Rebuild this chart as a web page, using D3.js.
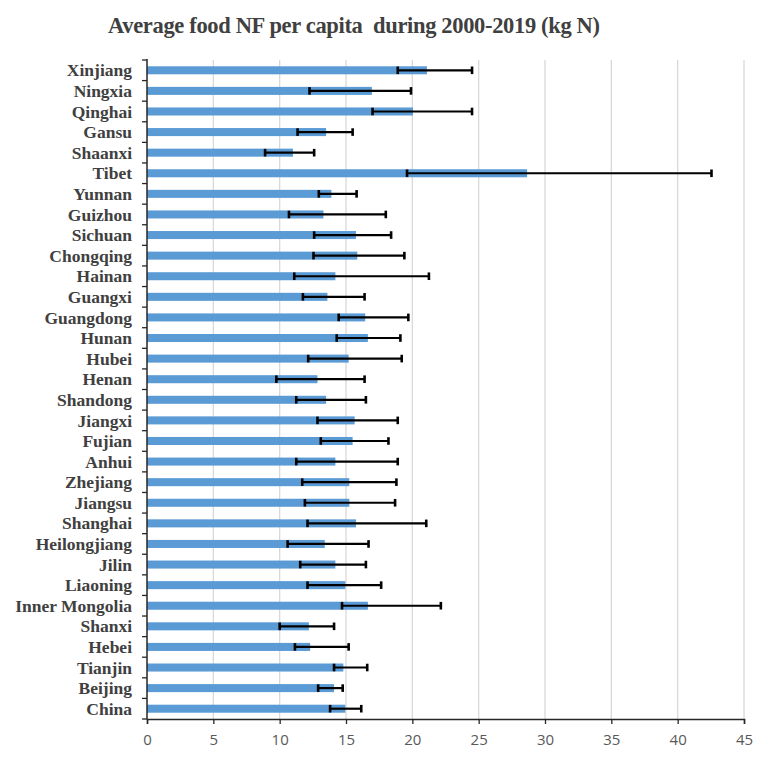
<!DOCTYPE html>
<html>
<head>
<meta charset="utf-8">
<script src="https://cdn.jsdelivr.net/npm/d3@7"></script>
<style>
  body { margin: 0; background: #fff; }
  svg { display: block; }
</style>
</head>
<body>
<script>
// provinces from top to bottom
var regions = ["Xinjiang", "Ningxia", "Qinghai", "Gansu", "Shaanxi", "Tibet", "Yunnan",
  "Guizhou", "Sichuan", "Chongqing", "Hainan", "Guangxi", "Guangdong", "Hunan", "Hubei",
  "Henan", "Shandong", "Jiangxi", "Fujian", "Anhui", "Zhejiang", "Jiangsu", "Shanghai",
  "Heilongjiang", "Jilin", "Liaoning", "Inner Mongolia", "Shanxi", "Hebei", "Tianjin",
  "Beijing", "China"];

// average food NF per capita (kg N)
var meanNF = [21.1, 16.95, 20.05, 13.5, 11.0, 28.65, 13.9,
  13.3, 15.75, 15.85, 14.2, 13.6, 16.45, 16.65, 15.2,
  12.85, 13.5, 15.65, 15.5, 14.2, 15.25, 15.25, 15.75,
  13.4, 14.2, 14.95, 16.65, 12.2, 12.3, 14.8,
  14.1, 14.95];

// lower and upper ends of the error bars
var lowNF = [18.9, 12.25, 17.0, 11.35, 8.9, 19.6, 12.95,
  10.7, 12.6, 12.55, 11.1, 11.75, 14.45, 14.3, 12.15,
  9.75, 11.25, 12.85, 13.1, 11.25, 11.7, 11.9, 12.1,
  10.6, 11.55, 12.1, 14.7, 10.0, 11.15, 14.1,
  12.9, 13.8];
var highNF = [24.5, 19.9, 24.5, 15.5, 12.6, 42.55, 15.8,
  18.0, 18.4, 19.4, 21.25, 16.4, 19.7, 19.1, 19.2,
  16.4, 16.5, 18.9, 18.2, 18.9, 18.8, 18.7, 21.05,
  16.7, 16.5, 17.65, 22.15, 14.1, 15.2, 16.6,
  14.75, 16.15];

var xTicks = [0, 5, 10, 15, 20, 25, 30, 35, 40, 45];

var width = 765, height = 762;
var margin = {top: 60, right: 21, bottom: 43, left: 147};

var rows = regions.map(function(d, i) {
  return {name: d, mean: meanNF[i], low: lowNF[i], high: highNF[i]};
});

var svg = d3.select("body").append("svg")
    .attr("width", width)
    .attr("height", height);

var x = d3.scaleLinear()
    .domain([0, 45])
    .range([margin.left, width - margin.right]);

var y = d3.scaleBand()
    .domain(regions)
    .range([margin.top, height - margin.bottom])
    .paddingInner(0.61)
    .paddingOuter(0.305);

var yOuter = d3.scaleBand()
    .domain(regions)
    .range([margin.top, height - margin.bottom]);

// title
svg.append("text")
    .attr("x", 108)
    .attr("y", 32.5)
    .attr("textLength", 492)
    .attr("lengthAdjust", "spacing")
    .style("font-family", "'Liberation Serif', 'Times New Roman', serif")
    .style("font-weight", "bold")
    .style("font-size", "22.5px")
    .style("white-space", "pre")
    .attr("fill", "#404040")
    .text("Average food NF per capita  during 2000-2019 (kg N)");

// vertical grid
svg.append("g")
    .selectAll("line")
    .data(xTicks.slice(1))
    .enter().append("line")
    .attr("x1", function(d) { return x(d); })
    .attr("x2", function(d) { return x(d); })
    .attr("y1", margin.top)
    .attr("y2", height - margin.bottom)
    .attr("stroke", "#d9d9d9")
    .attr("stroke-width", 1.3);

// bars
svg.append("g")
    .selectAll("rect")
    .data(rows)
    .enter().append("rect")
    .attr("x", x(0))
    .attr("y", function(d) { return y(d.name); })
    .attr("width", function(d) { return x(d.mean) - x(0); })
    .attr("height", y.bandwidth())
    .attr("fill", "#5b9bd5");

// error bars
var err = svg.append("g")
    .selectAll("g")
    .data(rows)
    .enter().append("g")
    .attr("transform", function(d) {
      return "translate(0," + (y(d.name) + y.bandwidth() / 2) + ")";
    });

err.append("line")
    .attr("x1", function(d) { return x(d.low); })
    .attr("x2", function(d) { return x(d.high); })
    .attr("stroke", "#000")
    .attr("stroke-width", 2.2);

err.selectAll(".cap")
    .data(function(d) { return [d.low, d.high]; })
    .enter().append("line")
    .attr("class", "cap")
    .attr("x1", function(d) { return x(d); })
    .attr("x2", function(d) { return x(d); })
    .attr("y1", -3.8)
    .attr("y2", 3.8)
    .attr("stroke", "#000")
    .attr("stroke-width", 2.6);

// x axis
var xAxis = svg.append("g")
    .attr("transform", "translate(0," + (height - margin.bottom) + ")")
    .call(d3.axisBottom(x).tickValues(xTicks).tickSize(5).tickPadding(10));

xAxis.select(".domain").attr("stroke", "#262626").attr("stroke-width", 1.5);
xAxis.selectAll(".tick line").attr("stroke", "#262626").attr("stroke-width", 1.3);
xAxis.selectAll("text")
    .style("font-family", "'Open Sans', 'Liberation Sans', sans-serif")
    .style("font-size", "15px")
    .attr("fill", "#595959");

// y axis with ticks at band edges
var yAxis = svg.append("g");

yAxis.append("line")
    .attr("x1", x(0)).attr("x2", x(0))
    .attr("y1", margin.top - 1).attr("y2", height - margin.bottom)
    .attr("stroke", "#262626")
    .attr("stroke-width", 1.5);

yAxis.selectAll(".edge")
    .data(regions)
    .enter().append("line")
    .attr("class", "edge")
    .attr("x1", x(0) - 5).attr("x2", x(0))
    .attr("y1", function(d) { return yOuter(d); })
    .attr("y2", function(d) { return yOuter(d); })
    .attr("stroke", "#262626")
    .attr("stroke-width", 1.3);

yAxis.append("line")
    .attr("x1", x(0) - 5).attr("x2", x(0))
    .attr("y1", height - margin.bottom).attr("y2", height - margin.bottom)
    .attr("stroke", "#262626")
    .attr("stroke-width", 1.3);

yAxis.selectAll("text")
    .data(regions)
    .enter().append("text")
    .attr("x", 132)
    .attr("y", function(d) { return yOuter(d) + yOuter.bandwidth() / 2; })
    .attr("dy", "0.35em")
    .attr("text-anchor", "end")
    .style("font-family", "'Liberation Serif', 'Times New Roman', serif")
    .style("font-weight", "bold")
    .style("font-size", "17.5px")
    .attr("fill", "#404040")
    .text(function(d) { return d; });
</script>
</body>
</html>
